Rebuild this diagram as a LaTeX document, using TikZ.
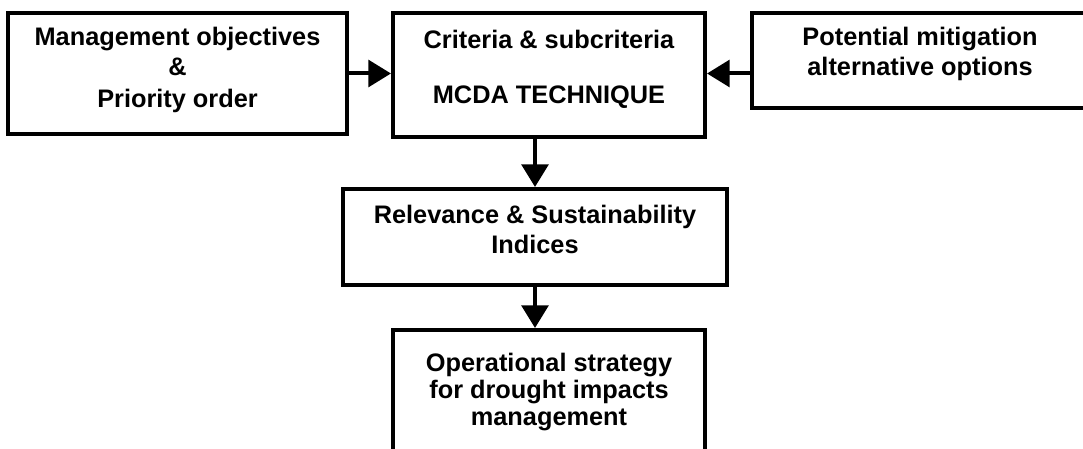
\documentclass[tikz,border=0pt]{standalone}
\usepackage{fontspec}
\setmainfont{Liberation Sans}
\usetikzlibrary{arrows.meta, positioning}
\tikzset{
	stepbox/.style={rectangle, draw=black, line width=3pt, align=center, inner sep=0pt, font=\bfseries\fontsize{19}{22.5}\selectfont},
	flowarrow/.style={-{Triangle[length=17pt, width=20pt]}, line width=3pt},
}
\begin{document}
\begin{tikzpicture}[x=0.75pt, y=-0.75pt]
	\useasboundingbox (0,0) rectangle (1083,449);
	\clip (0,0) rectangle (1083,449);
	\node[stepbox, minimum width=254.25pt, minimum height=90.75pt, text depth=10pt] (objectives) at (177.5,73.5) {Management objectives\\ \&\\[1.5pt] Priority order};
	\node[stepbox, minimum width=234pt, minimum height=93pt, text depth=13pt] (mcda) at (549,75) {Criteria \& subcriteria\\[18.75pt] MCDA TECHNIQUE};
	\node[stepbox, minimum width=252pt, minimum height=71.25pt, text depth=14pt] (options) at (920,60.5) {Potential mitigation\\ alternative options};
	\node[stepbox, minimum width=288pt, minimum height=72pt, text depth=11pt] (indices) at (535,237) {Relevance \& Sustainability\\ Indices};
	\node[stepbox, minimum width=234pt, minimum height=105pt, text depth=16pt, font=\bfseries\fontsize{19}{20.5}\selectfont] (strategy) at (549,400) {Operational strategy\\ for drought impacts\\ management};
	\draw[flowarrow] (objectives.east) -- (objectives.east -| mcda.west);
	\draw[flowarrow] (options.west |- objectives.east) -- (objectives.east -| mcda.east);
	\draw[flowarrow] (indices.north |- mcda.south) -- (indices.north);
	\draw[flowarrow] (indices.south) -- (indices.south |- strategy.north);
\end{tikzpicture}
\end{document}
